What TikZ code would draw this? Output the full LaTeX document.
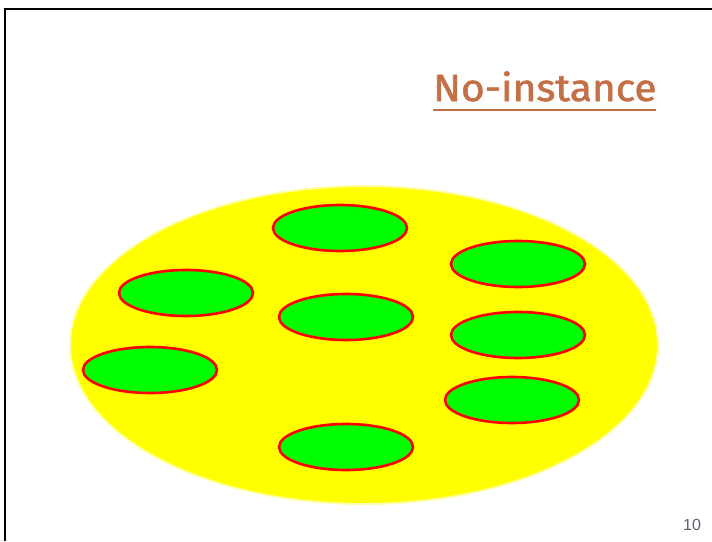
\documentclass[tikz,border=0pt]{standalone}
\usepackage{fontspec}
\setmainfont{Liberation Sans}
\newfontfamily\titlefont[FakeBold=1.5]{Fira Sans}
\definecolor{titlebrown}{RGB}{196,112,70}
\definecolor{paleyellow}{RGB}{255,255,170}
\definecolor{pureyellow}{RGB}{255,255,0}
\definecolor{puregreen}{RGB}{0,255,0}
\definecolor{pagegray}{RGB}{90,100,110}
\begin{document}
\begin{tikzpicture}[x=1pt,y=-1pt,
  blob/.style={draw=red, line width=2.6pt, fill=puregreen},
  frameline/.style={line width=2.5pt, black}]
\useasboundingbox (0,0) rectangle (712,541);
\fill[white] (0,0) rectangle (712,541);
\coordinate (tl) at (5,9);
\coordinate (tr) at (712,9);
\coordinate (bl) at (5,541);
\draw[frameline] (bl) -- (tl) -- (tr);
% big ellipse
\draw[fill=pureyellow, draw=paleyellow, line width=2pt] (364,345) ellipse [x radius=294, y radius=159];
% green blobs
\draw[blob] (340,228) ellipse [x radius=67, y radius=23];
\draw[blob] (518,264) ellipse [x radius=67, y radius=23];
\draw[blob] (186,293) ellipse [x radius=67, y radius=23];
\draw[blob] (346,317) ellipse [x radius=67, y radius=23];
\draw[blob] (518,335) ellipse [x radius=67, y radius=23];
\draw[blob] (150,370) ellipse [x radius=67, y radius=23];
\draw[blob] (512,400) ellipse [x radius=67, y radius=23];
\draw[blob] (346,447) ellipse [x radius=67, y radius=23];
% title
\node[text=titlebrown, anchor=base west, font=\titlefont\fontsize{38}{38}\selectfont, inner sep=0, xscale=1.07] (title) at (433,101) {No-instance};
\coordinate (ul1) at (433,110);
\coordinate (ul2) at (656,110);
\draw[titlebrown, line width=1.5pt] (ul1) -- (ul2);
% page number
\node[text=pagegray, font=\fontsize{16}{16}\selectfont, anchor=center] (pg) at (692,525) {10};
\end{tikzpicture}
\end{document}
